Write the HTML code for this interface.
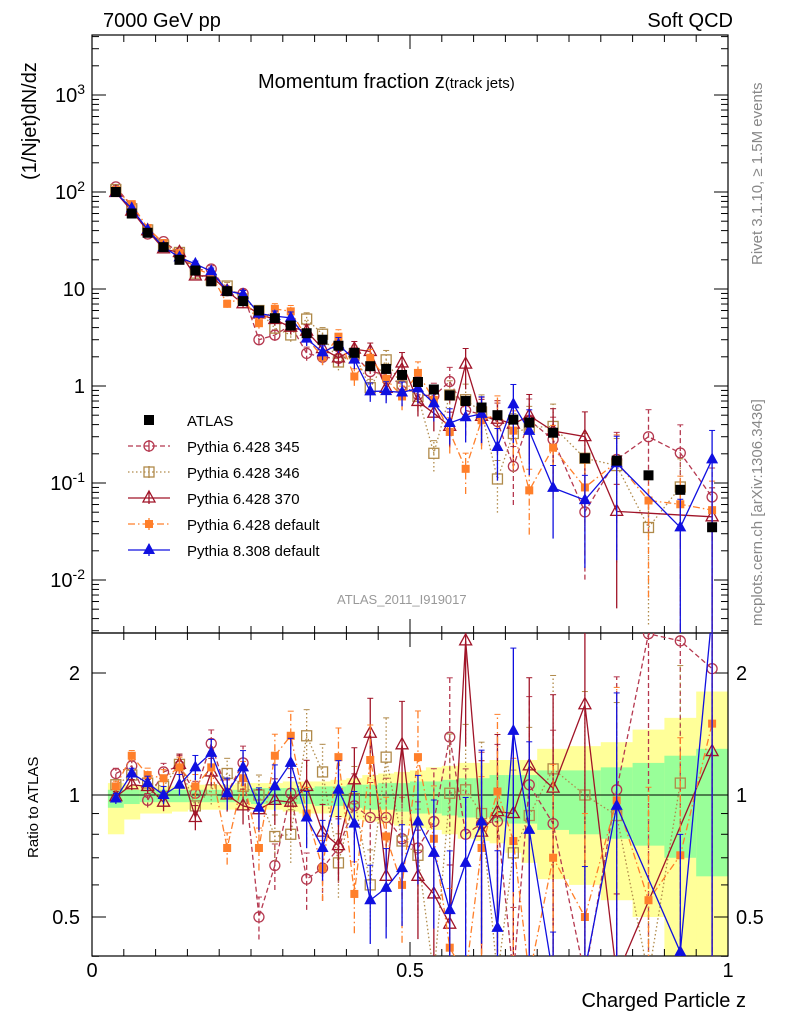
<!DOCTYPE html>
<html><head><meta charset="utf-8">
<style>
html,body{margin:0;padding:0;background:#fff;width:786px;height:1024px;overflow:hidden;}
svg{display:block;font-family:"Liberation Sans",sans-serif;}
</style></head>
<body>
<svg id="chart" width="786" height="1024" viewBox="0 0 786 1024" xmlns="http://www.w3.org/2000/svg">
  <g id="bands"></g>
  <g id="grid"></g>
  <g id="series"></g>
  <text x="103" y="27" font-size="20">7000 GeV pp</text>
  <text x="733" y="27" font-size="20" text-anchor="end">Soft QCD</text>
  <text x="258" y="88" font-size="20">Momentum fraction z<tspan font-size="15">(track jets)</tspan></text>
  <text transform="translate(36,180) rotate(-90)" font-size="20">(1/Njet)dN/dz</text>
  <text transform="translate(38,858) rotate(-90)" font-size="15">Ratio to ATLAS</text>
  <text x="746" y="1007" font-size="20" text-anchor="end">Charged Particle z</text>
  <text transform="translate(762,265) rotate(-90)" font-size="15" fill="#888">Rivet 3.1.10, ≥ 1.5M events</text>
  <text transform="translate(762,626) rotate(-90)" font-size="15" fill="#888">mcplots.cern.ch [arXiv:1306.3436]</text>
  <text x="337" y="604" font-size="13" fill="#999">ATLAS_2011_I919017</text>
  <g id="legend"></g>
</svg>
<script>
const binLo = [0.025,0.05,0.075,0.1,0.125,0.15,0.175,0.2,0.225,0.25,0.275,0.3,0.325,0.35,0.375,0.4,0.425,0.45,0.475,0.5,0.525,0.55,0.575,0.6,0.625,0.65,0.675,0.7,0.75,0.8,0.85,0.9,0.95];
const binHi = [0.05,0.075,0.1,0.125,0.15,0.175,0.2,0.225,0.25,0.275,0.3,0.325,0.35,0.375,0.4,0.425,0.45,0.475,0.5,0.525,0.55,0.575,0.6,0.625,0.65,0.675,0.7,0.75,0.8,0.85,0.9,0.95,1.0];
const atlas = [100,60,38,27,20,15.5,12,9.5,7.5,6,5,4.2,3.5,3.0,2.6,2.2,1.6,1.5,1.3,1.1,0.92,0.8,0.7,0.6,0.5,0.45,0.42,0.33,0.18,0.17,0.12,0.085,0.035];
const ratio345 = [1.13,1.18,0.97,1.14,1.18,1.01,1.34,1.01,1.2,0.5,0.67,1.01,0.62,0.66,0.74,0.94,0.88,0.88,0.78,0.74,0.86,1.39,0.8,0.85,0.86,0.33,1.06,0.85,0.28,1.03,2.5,2.4,2.05];
const ratio346 = [1.06,1.12,1.07,1.05,1.19,0.94,1.03,1.13,1.05,1.0,0.79,0.8,1.4,1.14,0.68,0.98,0.6,1.24,0.77,0.71,0.22,1.01,1.03,0.9,0.22,0.72,0.89,1.16,1.0,0.89,0.29,1.07,null];
const ratio370 = [0.99,1.06,1.05,0.96,1.19,0.88,1.14,1.0,0.94,0.92,0.97,0.96,1.05,0.81,0.75,1.09,1.42,0.63,1.33,0.63,0.57,0.48,2.4,0.81,0.91,0.9,1.18,1.04,1.67,0.3,null,null,1.28];
const ratioDef = [1.05,1.25,1.12,1.1,1.17,1.05,1.17,0.74,1.1,0.74,1.25,1.4,0.9,0.66,1.24,0.57,1.22,0.79,0.6,1.24,0.78,0.42,0.2,0.74,1.02,0.77,0.2,0.7,0.5,0.97,0.55,0.71,1.5];
const ratioP8 = [0.98,1.13,1.07,1.0,1.06,1.17,1.27,1.01,1.17,0.93,1.05,1.2,0.88,0.74,1.03,0.85,0.55,0.59,0.66,0.86,0.72,0.52,0.68,0.86,0.47,1.44,0.82,0.27,0.37,0.94,null,0.41,5];
const mcRelErr = [0.03,0.03,0.04,0.05,0.06,0.07,0.08,0.09,0.1,0.12,0.13,0.15,0.16,0.17,0.18,0.2,0.22,0.25,0.28,0.3,0.35,0.4,0.45,0.5,0.55,0.6,0.65,0.7,0.8,0.9,0.9,0.95,0.99];
const yellowHi = [1.07,1.06,1.05,1.05,1.05,1.06,1.06,1.06,1.07,1.07,1.07,1.08,1.08,1.08,1.09,1.1,1.12,1.13,1.14,1.15,1.17,1.18,1.2,1.2,1.22,1.22,1.22,1.3,1.32,1.35,1.45,1.55,1.8];
const yellowLo = [0.8,0.87,0.9,0.9,0.91,0.92,0.92,0.92,0.92,0.92,0.92,0.91,0.9,0.9,0.88,0.87,0.86,0.85,0.84,0.83,0.82,0.8,0.78,0.77,0.76,0.72,0.68,0.62,0.6,0.55,0.5,0.4,0.35];
const greenHi = [1.03,1.03,1.03,1.03,1.03,1.03,1.03,1.03,1.03,1.04,1.04,1.04,1.04,1.05,1.05,1.06,1.06,1.07,1.07,1.08,1.08,1.09,1.1,1.1,1.12,1.12,1.12,1.15,1.15,1.17,1.2,1.25,1.3];
const greenLo = [0.93,0.95,0.96,0.96,0.96,0.96,0.96,0.96,0.96,0.95,0.95,0.95,0.95,0.94,0.94,0.93,0.92,0.92,0.91,0.9,0.9,0.89,0.88,0.88,0.86,0.85,0.85,0.82,0.8,0.78,0.75,0.7,0.63];
const mainTickLabels = ["10^3","10^2","10","1","10^-1","10^-2"];
const mainTickValues = [1000,100,10,1,0.1,0.01];
const ratioTickValues = [2,1,0.5];
const ratioTickLabels = ["2","1","0.5"];
const xTickValues = [0,0.5,1];
const xTickLabels = ["0","0.5","1"];

const NS = "http://www.w3.org/2000/svg";
const L=92,R=728,T=35,MB=633,RB=956;
const X = z => L + z*(R-L);
const clamp=(v,a,b)=>Math.min(b,Math.max(a,v));
const Ym = v => clamp(192 - (Math.log10(v)-2)*97, T-20, MB+20);
const Yr = r => clamp(795 - Math.log10(r)/0.30103*122, MB-20, RB+20);
function mk(tag, attrs, parent){const e=document.createElementNS(NS,tag);for(const k in attrs)e.setAttribute(k,attrs[k]);parent.appendChild(e);return e;}

const bands=document.getElementById('bands');
for(let i=0;i<atlas.length;i++){
  const yt=Math.max(MB,Yr(yellowHi[i])), yb=Math.min(RB,Yr(yellowLo[i]));
  const y=mk('rect',{x:X(binLo[i]),width:X(binHi[i])-X(binLo[i])+0.5,y:yt,height:yb-yt,fill:'#ffff99'},bands);
  
  
  const g=mk('rect',{x:X(binLo[i]),width:X(binHi[i])-X(binLo[i])+0.5,y:Yr(greenHi[i]),height:Yr(greenLo[i])-Yr(greenHi[i]),fill:'#99ff99'},bands);
  
  
}

const grid=document.getElementById('grid');
mk('rect',{x:L,y:T,width:R-L,height:MB-T,fill:'none',stroke:'#000','stroke-width':1.2},grid);
mk('rect',{x:L,y:MB,width:R-L,height:RB-MB,fill:'none',stroke:'#000','stroke-width':1.2},grid);
mk('line',{x1:L,x2:R,y1:Yr(1),y2:Yr(1),stroke:'#000','stroke-width':1},grid);
for(let d=-3;d<=3;d++){for(let m=1;m<=9;m++){const v=m*Math.pow(10,d);const yy=192-(Math.log10(v)-2)*97;if(yy<T||yy>MB)continue;const len=m==1?14:7;
 mk('line',{x1:L,x2:L+len,y1:yy,y2:yy,stroke:'#000'},grid);mk('line',{x1:R,x2:R-len,y1:yy,y2:yy,stroke:'#000'},grid);}}
mainTickValues.forEach((v,i)=>{const y=Ym(v);const lab=mainTickLabels[i];const t=mk('text',{x:85,y:y+7,'font-size':20,'text-anchor':'end'},grid);
 if(lab.includes('^')){const p=lab.split('^');t.textContent=p[0];const s=mk('tspan',{dy:-8,'font-size':14},t);s.textContent=p[1];}else t.textContent=lab;
 
 });
[0.4,0.5,0.6,0.7,0.8,0.9,1,2].forEach(r=>{const y=Yr(r);const len=(r==1||r==2||r==0.5)?14:7;
 mk('line',{x1:L,x2:L+len,y1:y,y2:y,stroke:'#000'},grid);mk('line',{x1:R,x2:R-len,y1:y,y2:y,stroke:'#000'},grid);});
ratioTickValues.forEach((r,i)=>{
 const a=mk('text',{x:80,y:Yr(r)+7,'font-size':20,'text-anchor':'end'},grid);a.textContent=ratioTickLabels[i];
 
 
 const b=mk('text',{x:736,y:Yr(r)+7,'font-size':20},grid);b.textContent=ratioTickLabels[i];
 
 });
for(let k=0;k<=20;k++){const z=k*0.05;const x=X(z);const len=(k%10==0)?14:7;
 [[T,1],[MB,-1],[MB,1],[RB,-1]].forEach(([y0,s])=>mk('line',{x1:x,x2:x,y1:y0,y2:y0+s*len,stroke:'#000'},grid));}
xTickValues.forEach((z,i)=>{const t=mk('text',{x:X(z),y:977,'font-size':20,'text-anchor':'middle'},grid);t.textContent=xTickLabels[i];
 
 });

const seriesG=document.getElementById('series');
const defs=[
 {name:'pythia-6428-345',label:'Pythia 6.428 345',r:ratio345,color:'#b5384f',dash:'5,3',marker:'circle'},
 {name:'pythia-6428-346',label:'Pythia 6.428 346',r:ratio346,color:'#b08a4a',dash:'1.5,2.5',marker:'osquare'},
 {name:'pythia-6428-370',label:'Pythia 6.428 370',r:ratio370,color:'#a01428',dash:'',marker:'otri'},
 {name:'pythia-6428-default',label:'Pythia 6.428 default',r:ratioDef,color:'#ff7f2a',dash:'7,3,1.5,3',marker:'fsquare'},
 {name:'pythia-8308-default',label:'Pythia 8.308 default',r:ratioP8,color:'#1010e0',dash:'',marker:'ftri'}
];
function marker(type,x,y,c,parent){
 if(type=='circle')return mk('circle',{cx:x,cy:y,r:5,fill:'none',stroke:c,'stroke-width':1.3},parent);
 if(type=='osquare')return mk('rect',{x:x-5,y:y-5,width:10,height:10,fill:'none',stroke:c,'stroke-width':1.3},parent);
 if(type=='fsquare')return mk('rect',{x:x-4,y:y-4,width:8,height:8,fill:c},parent);
 if(type=='atlas')return mk('rect',{x:x-5,y:y-5,width:10,height:10,fill:'#000'},parent);
 if(type=='otri')return mk('path',{d:`M${x},${y-7}L${x+6},${y+4}L${x-6},${y+4}Z`,fill:'none',stroke:c,'stroke-width':1.3},parent);
 return mk('path',{d:`M${x},${y-7}L${x+6},${y+4}L${x-6},${y+4}Z`,fill:c},parent);
}
const clipM=mk('clipPath',{id:'cm'},seriesG);mk('rect',{x:L,y:T,width:R-L,height:MB-T},clipM);
const clipR=mk('clipPath',{id:'cr'},seriesG);mk('rect',{x:L,y:MB,width:R-L,height:RB-MB},clipR);
const gm=mk('g',{'clip-path':'url(#cm)'},seriesG);
const gr=mk('g',{'clip-path':'url(#cr)'},seriesG);
defs.forEach(s=>{
 const sgm=mk('g',{},gm);
 const sgr=mk('g',{},gr);
 let pm=[],pr=[];
 for(let i=0;i<atlas.length;i++){
  if(s.r[i]==null)continue;
  const cx=X((binLo[i]+binHi[i])/2);
  const v=atlas[i]*s.r[i];const e=mcRelErr[i];
  pm.push([cx,Ym(v)]);pr.push([cx,Yr(s.r[i])]);
  const lo=Math.max(v*(1-e),1e-4),hi=v*(1+e);
  mk('line',{x1:cx,x2:cx,y1:Ym(lo),y2:Ym(hi),stroke:s.color,'stroke-width':1.3,'stroke-dasharray':s.dash},sgm);
  mk('line',{x1:cx-3,x2:cx+3,y1:Ym(hi),y2:Ym(hi),stroke:s.color},sgm);
  const rlo=Math.max(s.r[i]*(1-e),1e-3),rhi=s.r[i]*(1+e);
  mk('line',{x1:cx,x2:cx,y1:Yr(rlo),y2:Yr(rhi),stroke:s.color,'stroke-width':1.3,'stroke-dasharray':s.dash},sgr);
  mk('line',{x1:cx-3,x2:cx+3,y1:Yr(rhi),y2:Yr(rhi),stroke:s.color},sgr);
 }
 mk('polyline',{points:pm.map(p=>p.join(',')).join(' '),fill:'none',stroke:s.color,'stroke-width':1.3,'stroke-dasharray':s.dash},sgm);
 mk('polyline',{points:pr.map(p=>p.join(',')).join(' '),fill:'none',stroke:s.color,'stroke-width':1.3,'stroke-dasharray':s.dash},sgr);
 pm.forEach(p=>{const m=marker(s.marker,p[0],p[1],s.color,sgm);});
 pr.forEach(p=>{const m=marker(s.marker,p[0],p[1],s.color,sgr);});
});
const ag=mk('g',{},gm);
for(let i=0;i<atlas.length;i++){const m=marker('atlas',X((binLo[i]+binHi[i])/2),Ym(atlas[i]),'#000',ag);
 
 }

const lg=document.getElementById('legend');
const rows=[{label:'ATLAS',marker:'atlas',color:'#000',dash:null}].concat(defs);
rows.forEach((s,k)=>{const y=420+k*26;const e=mk('g',{},lg);
 
 
 if(s.dash!==null){mk('line',{x1:128,x2:170,y1:y,y2:y,stroke:s.color,'stroke-width':1.3,'stroke-dasharray':s.dash},e);
  mk('line',{x1:149,x2:149,y1:y-6,y2:y+6,stroke:s.color,'stroke-width':1.3},e);}
 marker(s.marker,149,y,s.color,e);
 const t=mk('text',{x:187,y:y+6,'font-size':15},e);t.textContent=s.label;});
</script>
</body></html>
